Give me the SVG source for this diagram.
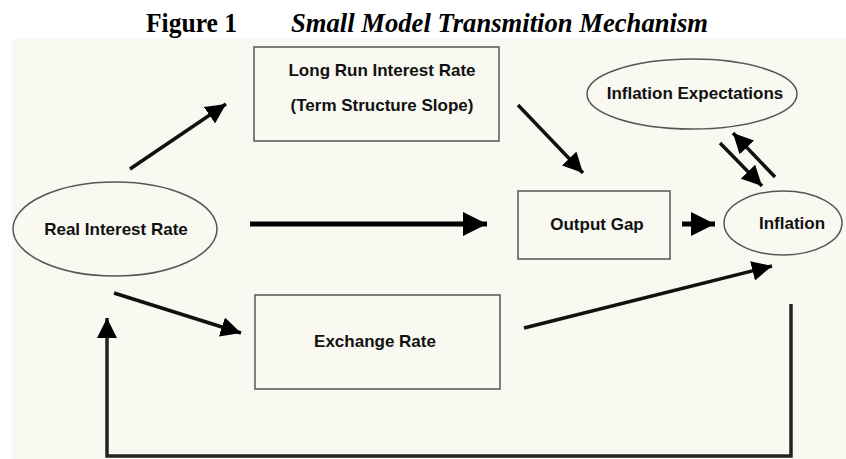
<svg xmlns="http://www.w3.org/2000/svg" width="846" height="459" viewBox="0 0 846 459">
<defs>
<style>
.node{fill:none;stroke:#555;stroke-width:1.5}
.lbl{font-family:"Liberation Sans",Arial,sans-serif;font-weight:bold;font-size:17px;fill:#111;text-anchor:middle}
.ttl{font-family:"Liberation Serif","Times New Roman",serif;font-weight:bold;font-size:27px;fill:#000}
.thin{stroke:#111;stroke-width:3.5;fill:none}
.thick{stroke:#000;stroke-width:5;fill:none}
.line{stroke:#222;stroke-width:3.5;fill:none}
</style>
<marker id="ah" markerUnits="userSpaceOnUse" markerWidth="20" markerHeight="20" viewBox="0 0 16 16" refX="16" refY="8" orient="auto">
<path d="M0,0 L16,8 L0,16 Z" fill="#000"/>
</marker>
<marker id="ahb" markerUnits="userSpaceOnUse" markerWidth="24" markerHeight="24" viewBox="0 0 22 22" refX="22" refY="11" orient="auto">
<path d="M0,0 L22,11 L0,22 Z" fill="#000"/>
</marker>
</defs>
<rect x="0" y="0" width="846" height="459" fill="#ffffff"/>
<rect x="12" y="39" width="834" height="420" fill="#f9f9f1"/>
<g id="title">
<text class="ttl" x="146" y="32" textLength="91" lengthAdjust="spacingAndGlyphs">Figure 1</text>
<text class="ttl" x="291" y="32" font-style="italic" textLength="417" lengthAdjust="spacingAndGlyphs">Small Model Transmition Mechanism</text>
</g>
<g id="connectors">
<line class="thin" x1="130" y1="169" x2="226" y2="104" marker-end="url(#ah)"/>
<line class="thick" x1="250" y1="224" x2="487" y2="224" marker-end="url(#ahb)"/>
<line class="thin" x1="518" y1="105" x2="583" y2="173" marker-end="url(#ah)"/>
<line class="thick" x1="682" y1="224" x2="715" y2="224" marker-end="url(#ahb)"/>
<line class="thin" x1="775" y1="177" x2="733" y2="133" marker-end="url(#ah)"/>
<line class="thin" x1="720" y1="143" x2="762" y2="186" marker-end="url(#ah)"/>
<line class="thin" x1="114" y1="293" x2="241" y2="333" marker-end="url(#ah)"/>
<line class="thin" x1="524" y1="328" x2="772" y2="266" marker-end="url(#ah)"/>
<polyline class="line" points="791,304 791,456 107,456 107,318" marker-end="url(#ah)"/>
</g>
<g id="real-interest-rate">
<ellipse class="node" cx="115" cy="229" rx="102" ry="47"/>
<text class="lbl" x="116" y="235">Real Interest Rate</text>
</g>
<g id="long-run-rate">
<rect class="node" x="254" y="47" width="245" height="94"/>
<text class="lbl" x="382" y="76">Long Run Interest Rate</text>
<text class="lbl" x="382" y="111">(Term Structure Slope)</text>
</g>
<g id="exchange-rate">
<rect class="node" x="255" y="295" width="245" height="94"/>
<text class="lbl" x="375" y="347">Exchange Rate</text>
</g>
<g id="output-gap">
<rect class="node" x="518" y="191" width="152" height="68"/>
<text class="lbl" x="597" y="230">Output Gap</text>
</g>
<g id="inflation">
<ellipse class="node" cx="783" cy="223" rx="59" ry="32"/>
<text class="lbl" x="792" y="229">Inflation</text>
</g>
<g id="inflation-expectations">
<ellipse class="node" cx="692" cy="94" rx="105" ry="35"/>
<text class="lbl" x="695" y="99">Inflation Expectations</text>
</g>
</svg>
